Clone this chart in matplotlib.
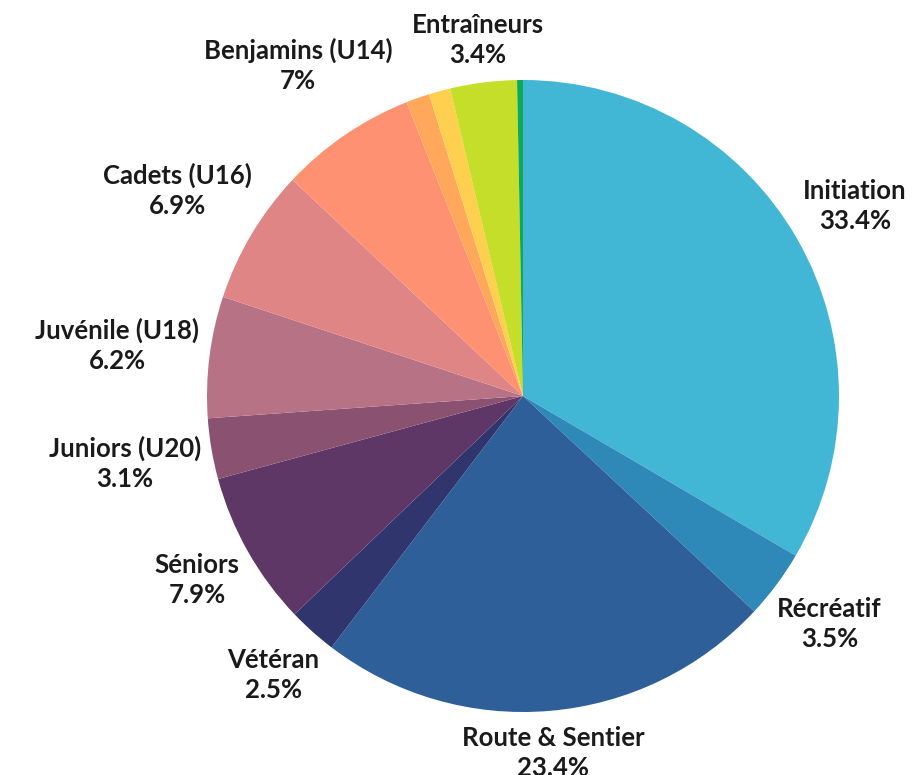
import matplotlib
matplotlib.use("Agg")
import matplotlib.pyplot as plt
import numpy as np

plt.rcParams['font.family'] = ['Lato', 'DejaVu Sans']

# data (clockwise from top)
categories = ['Initiation', 'Récréatif', 'Route & Sentier', 'Vétéran', 'Séniors',
              'Juniors (U20)', 'Juvénile (U18)', 'Cadets (U16)', 'Benjamins (U14)',
              '', '', 'Entraîneurs', '']
values = [33.4, 3.5, 23.4, 2.5, 7.9, 3.1, 6.2, 6.9, 7.0, 1.2, 1.1, 3.4, 0.3]
pct_labels = ['33.4%', '3.5%', '23.4%', '2.5%', '7.9%', '3.1%', '6.2%', '6.9%', '7%',
              '', '', '3.4%', '']
colors = ['#42B6D5', '#2E88B8', '#2F5F98', '#31356E', '#5E3766', '#8A5170', '#B87285',
          '#E08585', '#FF9173', '#FFA75A', '#FFD04F', '#C5DE29', '#0EAA58']

W, H = 922, 775
cx, cy, R = 523, 396, 316  # pie centre and radius in pixels

fig = plt.figure(figsize=(W / 100, H / 100), dpi=100)
ax = fig.add_axes([0, 0, 1, 1])
ax.axis('off')

wedges, _ = ax.pie(values, colors=colors, startangle=90, counterclock=False,
                   radius=1, wedgeprops=dict(linewidth=0))
ax.set_xlim(-cx / R, (W - cx) / R)
ax.set_ylim(-(H - cy) / R, cy / R)
ax.set_aspect('auto')

# labels outside each wedge, box kept a small gap from the rim
texts = []
for w, name, pct in zip(wedges, categories, pct_labels):
    if not name:
        continue
    t = ax.text(0, 0, name + '\n' + pct, ha='center', va='center', fontsize=18.5,
                fontweight='bold', color='#1a1a1a', linespacing=1.3)
    texts.append((w, t))

fig.canvas.draw()
renderer = fig.canvas.get_renderer()
gap = 8
for w, t in texts:
    ang = np.deg2rad((w.theta1 + w.theta2) / 2)
    dx, dy = np.cos(ang), np.sin(ang)
    bb = t.get_window_extent(renderer)
    dist = R + gap + abs(dx) * bb.width / 2 + abs(dy) * bb.height / 2
    t.set_position((dx * dist / R, dy * dist / R))

fig.savefig('out.png', dpi=100)
